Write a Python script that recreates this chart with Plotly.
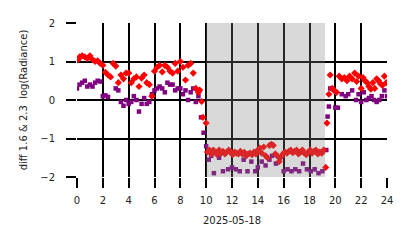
import plotly.graph_objects as go

# Red series (diamonds): hours and values
red_h = [0.1, 0.2, 0.4, 0.6, 0.8, 1.0, 1.2, 1.4, 1.6, 1.8, 2.0, 2.2, 2.4, 2.6, 2.8, 3.0, 3.2, 3.4, 3.6, 3.8,
         4.0, 4.2, 4.4, 4.6, 4.8, 5.0, 5.2, 5.4, 5.6, 5.8, 6.0, 6.2, 6.4, 6.6, 6.8, 7.0, 7.2, 7.4, 7.6, 7.8,
         8.0, 8.2, 8.4, 8.6, 8.8, 9.0, 9.2, 9.4, 9.5, 9.65, 9.75, 10.0,
         10.1, 10.25, 10.4, 10.55, 10.7, 10.85, 11.0, 11.15, 11.3, 11.45, 11.6, 11.75, 11.9, 12.05, 12.2,
         12.35, 12.5, 12.65, 12.8, 12.95, 13.1, 13.25, 13.4, 13.55, 13.7, 13.85, 14.0, 14.15, 14.3, 14.45,
         14.6, 14.75, 14.9, 15.05, 15.2, 15.35, 15.5, 15.65, 15.8, 15.95, 16.1, 16.25, 16.4, 16.55, 16.7,
         16.85, 17.0, 17.15, 17.3, 17.45, 17.6, 17.75, 17.9, 18.05, 18.2, 18.35, 18.5, 18.65, 18.8, 18.95,
         19.1, 19.25,
         19.35, 19.5, 19.6, 19.75, 19.9, 20.1, 20.3, 20.5, 20.7, 20.9, 21.1, 21.3, 21.5, 21.65, 21.8, 22.0,
         22.15, 22.3, 22.45, 22.6, 22.75, 22.9, 23.05, 23.2, 23.35, 23.5, 23.65, 23.8, 23.95]
red_v = [1.05, 1.12, 1.15, 1.12, 1.08, 1.15, 1.05, 1.0, 1.02, 0.95, 0.9, 0.72, 0.65, 0.6, 0.95, 0.88, 0.45, 0.65, 0.55, 0.7,
         0.7, 0.45, 0.55, 0.6, 0.35, 0.57, 0.65, 0.45, 0.4, 0.1, 0.75, 0.85, 0.9, 0.73, 0.9, 0.85, 0.75, 0.7, 0.95, 0.75,
         1.0, 0.85, 0.52, 0.9, 0.95, 0.7, 0.3, 0.2, 0.26, -0.04, -0.45, -0.6,
         -1.35, -1.3, -1.4, -1.3, -1.35, -1.42, -1.3, -1.38, -1.33, -1.4, -1.35, -1.3, -1.36, -1.42, -1.35,
         -1.38, -1.4, -1.33, -1.4, -1.36, -1.45, -1.4, -1.38, -1.42, -1.35, -1.4, -1.3, -1.25, -1.38, -1.22,
         -1.45, -1.5, -1.18, -1.15, -1.18, -1.4, -1.45, -1.6, -1.48, -1.4, -1.35, -1.38, -1.33, -1.3, -1.37,
         -1.33, -1.3, -1.4, -1.35, -1.3, -1.38, -1.42, -1.35, -1.3, -1.38, -1.33, -1.3, -1.4, -1.35, -1.38,
         -1.3, -1.75,
         -0.6, 0.15, 0.65, 0.3, 0.25, 0.2, 0.62, 0.55, 0.58, 0.5, 0.62, 0.55, 0.7, 0.48, 0.62, 0.3,
         0.58, 0.5, 0.45, 0.35, 0.28, 0.45, 0.3, 0.55, 0.5, 0.42, 0.38, 0.62, 0.45]

# Purple series (squares)
pur_h = [0.0, 0.2, 0.4, 0.6, 0.8, 1.0, 1.2, 1.4, 1.6, 1.8, 2.0, 2.2, 2.4, 3.0, 3.2, 3.4, 3.6, 3.8,
         4.0, 4.2, 4.4, 4.6, 4.8, 5.0, 5.2, 5.4, 5.6, 5.8, 6.0, 6.2, 6.4, 6.6, 6.8, 7.0, 7.2, 7.4, 7.6, 7.8,
         8.0, 8.2, 8.4, 8.6, 8.8, 9.0, 9.2, 9.4, 9.6, 9.8, 10.0,
         10.2, 10.4, 10.6, 11.0, 11.3, 11.7, 12.0, 12.3, 12.6, 12.9, 13.2, 13.5, 13.8, 14.0, 14.3, 14.6,
         14.9, 15.1, 15.4, 15.7, 16.0, 16.3, 16.6, 16.9, 17.2, 17.5, 17.8, 18.1, 18.4, 18.7, 19.0, 19.3,
         19.4, 19.5, 19.6, 19.8, 20.0, 20.2, 20.5, 20.8, 21.0, 21.3, 21.6, 21.8, 22.0, 22.2, 22.4, 22.6,
         22.8, 23.0, 23.2, 23.4, 23.6, 23.8, 24.0]
pur_v = [0.3, 0.4, 0.45, 0.5, 0.35, 0.4, 0.35, 0.45, 0.5, 0.48, 0.1, 0.12, 0.08, 0.3, 0.25, -0.05, -0.15, 0.0,
         -0.1, -0.05, 0.1, 0.0, -0.3, -0.1, 0.05, -0.1, -0.05, 0.15, 0.25, 0.3, 0.35, 0.3, 0.2, 0.45, 0.4, 0.4, 0.25, 0.3,
         0.3, 0.15, 0.25, 0.0, 0.2, 0.3, -0.05, 0.1, -0.45, -0.85, -1.2,
         -1.55, -1.45, -1.9, -1.5, -1.85, -1.8, -1.75, -1.8, -1.85, -1.55, -1.85, -1.6, -1.85, -1.75, -1.6, -1.7,
         -1.55, -1.45, -1.65, -1.5, -1.85, -1.8, -1.85, -1.8, -1.85, -1.65, -1.8, -1.85, -1.8, -1.9, -1.85, -1.3,
         -0.43, -0.17, 0.3, 0.3, -0.2, -0.2, 0.15, 0.1, 0.15, 0.25, 0.0, 0.15, -0.05, 0.2, 0.0, 0.05,
         0.1, 0.0, -0.05, 0.0, 0.1, 0.25, 0.1]

shade_x = [10.0, 19.2]
x_ticks = list(range(0, 25, 2))
y_ticks = [-2, -1, 0, 1, 2]

fig = go.Figure()
fig.add_trace(go.Scatter(x=pur_h, y=pur_v, mode="markers",
                         marker=dict(symbol="square", size=4.5, color="#800080", line=dict(width=0)),
                         showlegend=False))
fig.add_trace(go.Scatter(x=red_h, y=red_v, mode="markers",
                         marker=dict(symbol="diamond", size=5.5, color="#ff0000", line=dict(width=0)),
                         showlegend=False))

fig.add_shape(type="rect", xref="x", yref="y", x0=shade_x[0], x1=shade_x[1], y0=-2, y1=2,
              fillcolor="#808080", opacity=0.3, line=dict(width=0), layer="above")

lab_font = dict(family="DejaVu Sans", size=10, color="#222")
title_font = dict(family="DejaVu Sans", size=10, color="#222")
axis_common = dict(showgrid=True, gridcolor="black", gridwidth=2, ticks="outside", ticklen=10,
                   tickwidth=2, tickcolor="black", zeroline=False, showline=False,
                   tickfont=lab_font)

fig.update_xaxes(range=[0, 24], tickvals=x_ticks, ticklabelstandoff=4,
                 title=dict(text="2025-05-18", standoff=11, font=title_font), **axis_common)
fig.update_yaxes(range=[-2, 2], tickvals=y_ticks, ticklabelstandoff=9,
                 title=dict(text="diff 1.6 & 2.3\u00a0 log(Radiance)", standoff=10, font=title_font),
                 **axis_common)

fig.update_layout(width=414, height=248, margin=dict(l=77, r=27, t=23, b=71),
                  plot_bgcolor="white", paper_bgcolor="white",
                  font=dict(family="DejaVu Sans"))

fig.write_html("out.html")
